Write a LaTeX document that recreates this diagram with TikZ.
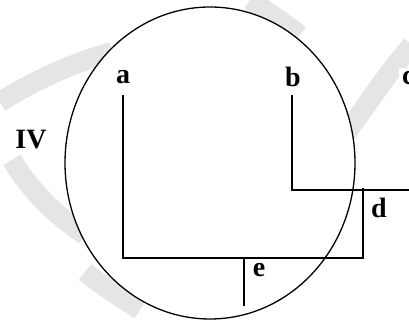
\documentclass[tikz,border=0pt]{standalone}
\usepackage{fontspec}
\setmainfont{Liberation Serif}
\begin{document}
\begin{tikzpicture}[x=1pt,y=-1pt,
  wire/.style={line width=1.4pt},
  band/.style={line width=20pt, draw=black!10, line cap=butt},
  lbl/.style={font=\fontsize{28}{30}\selectfont\bfseries, inner sep=3pt, fill=white}]
\useasboundingbox (0,0) rectangle (409,320);
\fill[white] (0,0) rectangle (409,320);
% faint watermark bands
\draw[band] (0,102) .. controls (35,80) and (75,62) .. (112,52);
\draw[band] (12,160) .. controls (30,190) and (55,215) .. (85,235);
\draw[band] (85,272) .. controls (105,288) and (125,300) .. (140,310);
\draw[band] (250,0) .. controls (265,10) and (280,20) .. (300,35);
\draw[band] (412,45) .. controls (390,70) and (370,100) .. (345,135);
% ellipse
\draw[line width=1.3pt, fill=white] (210,163) ellipse [x radius=145, y radius=156];
% labels
\node[lbl] (a) at (123,77) {a};
\node[lbl] (b) at (293,77) {b};
\node[lbl, anchor=west] (c) at (399,78) {c};
\node[lbl] (iv) at (31,140) {IV};
\node[lbl] (d) at (379,208) {d};
\node[lbl] (e) at (259,270) {e};
% wires
\coordinate (a1) at (123,95);
\coordinate (a2) at (123,258);
\coordinate (d1) at (363,188);
\coordinate (d2) at (363,258);
\coordinate (e1) at (244,258);
\coordinate (e2) at (244,306);
\coordinate (b1) at (292,95);
\coordinate (b2) at (292,190);
\coordinate (c2) at (412,190);
\draw[wire] (a1) -- (a2) -- (d2) -- (d1);
\draw[wire] (e1) -- (e2);
\draw[wire] (b1) -- (b2) -- (c2);
\end{tikzpicture}
\end{document}
